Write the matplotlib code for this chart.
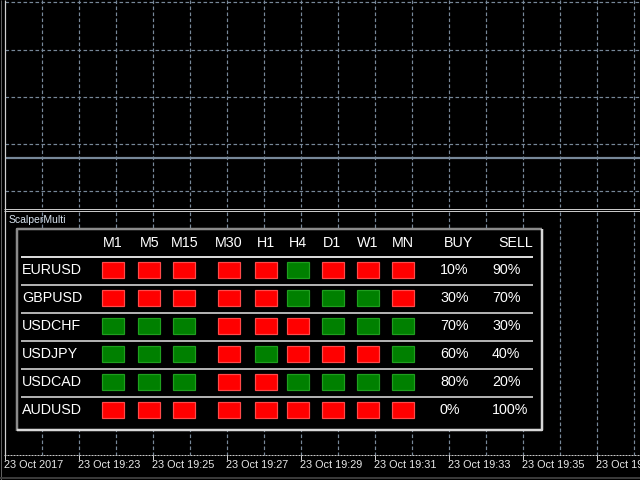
import matplotlib
matplotlib.use("Agg")
import matplotlib.pyplot as plt
from matplotlib.patches import Rectangle

plt.rcParams['font.family'] = ['Liberation Sans', 'DejaVu Sans']

# ---- data ----
timeframes = ["M1", "M5", "M15", "M30", "H1", "H4", "D1", "W1", "MN"]
symbols = ["EURUSD", "GBPUSD", "USDCHF", "USDJPY", "USDCAD", "AUDUSD"]
# 1 = buy (green), 0 = sell (red)
signals = [
    [0, 0, 0, 0, 0, 1, 0, 0, 0],
    [0, 0, 0, 0, 0, 1, 1, 1, 0],
    [1, 1, 1, 0, 0, 0, 1, 1, 1],
    [1, 1, 1, 0, 1, 0, 0, 0, 1],
    [1, 1, 1, 0, 0, 1, 1, 1, 1],
    [0, 0, 0, 0, 0, 0, 0, 0, 0],
]
buy_pct = [10, 30, 70, 60, 80, 0]
sell_pct = [90, 70, 30, 40, 20, 100]
time_labels = ["23 Oct 2017", "23 Oct 19:23", "23 Oct 19:25", "23 Oct 19:27",
               "23 Oct 19:29", "23 Oct 19:31", "23 Oct 19:33", "23 Oct 19:35",
               "23 Oct 19:37"]
indicator_name = "ScalperMulti"

# ---- layout (pixel coordinates) ----
W, H = 640, 480
PX = 0.72  # 1 pixel in points at dpi 100
col_x = [112.5, 149.3, 184.3, 228.5, 265.5, 298, 332.5, 367.5, 402.5]
buy_hdr_x, sell_hdr_x = 458.5, 515.5
buy_x, sell_x = 440, 492
row_y0, row_dy = 270.5, 28
hdr_y = 243
grid_x0, grid_dx = 5, 37
grid_col = '#778899'
fs = 10.3

fig = plt.figure(figsize=(6.4, 4.8), dpi=100, facecolor='black')
ax = fig.add_axes([0, 0, 1, 1])
ax.set_facecolor('black')
ax.set_xlim(0, W)
ax.set_ylim(H, 0)
ax.axis('off')

dash = (0, (3, 2))
gx = [grid_x0 + grid_dx * k for k in range(1, 18)]
# top panel grid
ax.vlines(gx, 0, 207, colors=grid_col, linewidth=PX * 1.2, linestyles=dash)
ax.hlines([2, 49.5, 97, 144, 191], 5, W, colors=grid_col, linewidth=PX * 1.2, linestyles=dash)
ax.hlines(158, 5, W, colors=grid_col, linewidth=PX * 2.2)
# panel separator
ax.hlines([208.5, 211], 4, W, colors='#c8c8c8', linewidth=PX)
# bottom panel grid
ax.vlines(gx, 212, 455, colors=grid_col, linewidth=PX * 1.2, linestyles=dash)
# left border
ax.vlines(4.5, 0, 456, colors='#d0d0d0', linewidth=PX * 1.2)
ax.vlines(0.5, 0, 480, colors='#606060', linewidth=PX)
# time axis
ax.hlines(455, 4, W, colors='#c8c8c8', linewidth=PX, linestyles=(0, (2, 1)))
tick_x = [grid_x0 + 2 * grid_dx * k for k in range(len(time_labels))]
ax.vlines(tick_x, 455, 460, colors='#d0d0d0', linewidth=PX)
for x, lab in zip(tick_x, time_labels):
    ax.text(x - 1.5, 465.5, lab, color='#e8e8e8', fontsize=7.8,
            ha='left', va='center', clip_on=False)
ax.hlines(477.5, 0, W, colors='#3a3a3a', linewidth=PX * 2)

# indicator name
ax.text(8.5, 220, indicator_name, color='#d8e4f0', fontsize=7.5, ha='left', va='center')

# table frame
ax.add_patch(Rectangle((16, 228), 527, 203, facecolor='black', edgecolor='none', zorder=3))
ax.plot([17, 17, 542], [431, 229, 229], color='#8a8a8a', linewidth=PX * 2.5,
        solid_capstyle='butt', zorder=4)
ax.plot([17, 542, 542], [430, 430, 229], color='#d8d8d8', linewidth=PX * 2.5,
        solid_capstyle='butt', zorder=4)

# header
for x, tf in zip(col_x, timeframes):
    ax.text(x, hdr_y, tf, color='white', fontsize=fs, ha='center', va='center', zorder=5)
ax.text(buy_hdr_x, hdr_y, "BUY", color='white', fontsize=fs, ha='center', va='center', zorder=5)
ax.text(sell_hdr_x, hdr_y, "SELL", color='white', fontsize=fs, ha='center', va='center', zorder=5)

# separators
sep_y = [row_y0 - 14 + row_dy * i for i in range(len(symbols))]
ax.hlines(sep_y[0], 21, 533, colors='#d8d8d8', linewidth=PX * 2, zorder=5)
ax.hlines(sep_y[1:], 21, 533, colors='#b0b0b0', linewidth=PX * 2, zorder=5)

# rows
for i, sym in enumerate(symbols):
    y = row_y0 + row_dy * i
    ax.text(22, y, sym, color='white', fontsize=fs, ha='left', va='center', zorder=5)
    fills = ['#008000' if s else '#ff0000' for s in signals[i]]
    edges = ['#1f9f1f' if s else '#ff4a4a' for s in signals[i]]
    ax.bar(col_x, 16, width=22, bottom=y - 8.5, color=fills, edgecolor=edges,
           linewidth=PX * 1.2, zorder=5)
    ax.text(buy_x, y, f"{buy_pct[i]}%", color='white', fontsize=fs, ha='left', va='center', zorder=5)
    ax.text(sell_x, y, f"{sell_pct[i]}%", color='white', fontsize=fs, ha='left', va='center', zorder=5)

fig.savefig("out.png", dpi=100, facecolor='black')
